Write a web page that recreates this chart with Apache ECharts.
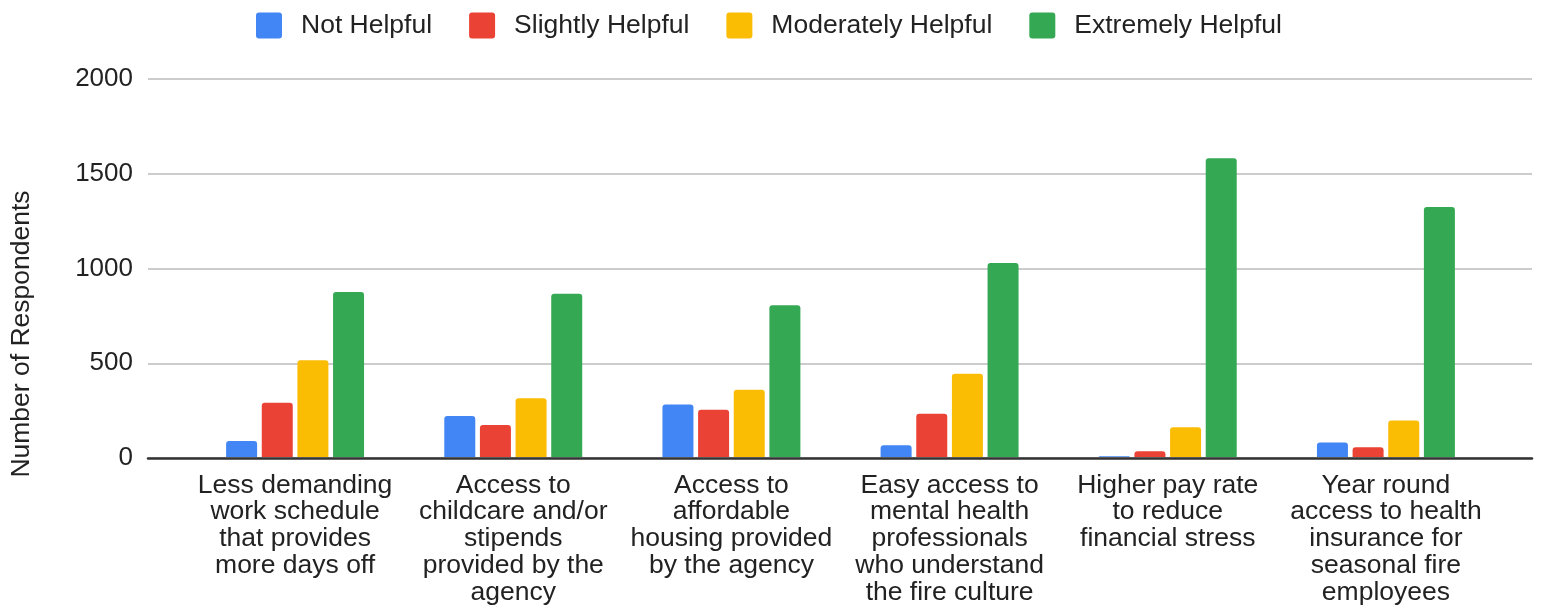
<!DOCTYPE html>
<html>
<head>
<meta charset="utf-8">
<script src="https://cdn.jsdelivr.net/npm/echarts@6/dist/echarts.min.js"></script>
<style>
    html, body { margin: 0; padding: 0; background: #fff; }
    #chart { width: 1544px; height: 606px; }
</style>
</head>
<body>
<div id="chart"></div>
<script>
    var categories = [
        'Less demanding\nwork schedule\nthat provides\nmore days off',
        'Access to\nchildcare and/or\nstipends\nprovided by the\nagency',
        'Access to\naffordable\nhousing provided\nby the agency',
        'Easy access to\nmental health\nprofessionals\nwho understand\nthe fire culture',
        'Higher pay rate\nto reduce\nfinancial stress',
        'Year round\naccess to health\ninsurance for\nseasonal fire\nemployees'
    ];
    var seriesNames = ['Not Helpful', 'Slightly Helpful', 'Moderately Helpful', 'Extremely Helpful'];
    var notHelpful = [84, 216, 277, 62, 4, 76];
    var slightlyHelpful = [287, 169, 250, 229, 30, 51];
    var moderatelyHelpful = [511, 310, 356, 440, 157, 192];
    var extremelyHelpful = [873, 863, 803, 1026, 1581, 1322];
    var colors = ['#4285f4', '#ea4335', '#fbbc04', '#34a853'];

    var font = "'Liberation Sans', Arial, sans-serif";
    var values = [notHelpful, slightlyHelpful, moderatelyHelpful, extremelyHelpful];
    // small-radius square for legend markers
    var keyIcon = 'path://M3,0 H23 Q26,0 26,3 V23 Q26,26 23,26 H3 Q0,26 0,23 V3 Q0,0 3,0 Z';

    var chart = echarts.init(document.getElementById('chart'));

    var series = seriesNames.map(function (name, i) {
        return {
            name: name,
            type: 'bar',
            xAxisIndex: 1,
            yAxisIndex: 1,
            barWidth: 31,
            barGap: '15%',
            itemStyle: { color: colors[i], borderRadius: [3, 3, 0, 0] },
            data: values[i]
        };
    });

    var option = {
        animation: false,
        color: colors,
        textStyle: { fontFamily: font },
        legend: {
            left: 256,
            top: 12,
            padding: 0,
            itemWidth: 26,
            itemHeight: 26,
            itemGap: 37,
            icon: keyIcon,
            textStyle: { fontSize: 26.5, color: '#222', fontFamily: font, padding: [0, 0, 0, 14] },
            data: seriesNames
        },
        grid: [
            { left: 148, right: 12, top: 79, bottom: 148 },
            { left: 186, right: 49, top: 79, bottom: 148 }
        ],
        xAxis: [
            {
                gridIndex: 0, type: 'value', min: 0, max: 1,
                axisLabel: { show: false }, axisTick: { show: false },
                splitLine: { show: false },
                axisLine: { show: true, lineStyle: { color: '#333', width: 2.5 } }
            },
            {
                gridIndex: 1, type: 'category', data: categories,
                axisLine: { show: false }, axisTick: { show: false },
                axisLabel: {
                    interval: 0, margin: 15, fontSize: 26.5, lineHeight: 26.8,
                    color: '#222', fontFamily: font
                }
            }
        ],
        yAxis: [
            {
                gridIndex: 0, type: 'value', min: 0, max: 2000, interval: 500,
                axisLine: { show: false }, axisTick: { show: false },
                axisLabel: {
                    fontSize: 26, color: '#222', margin: 15, fontFamily: font,
                    formatter: function (v) { return String(v); }
                },
                splitLine: { lineStyle: { color: '#cccccc', width: 2 } }
            },
            {
                gridIndex: 1, type: 'value', min: 0, max: 2000, interval: 500,
                show: false, splitLine: { show: false }
            }
        ],
        graphic: [{
            type: 'text',
            x: 22, y: 334,
            rotation: Math.PI / 2,
            style: {
                text: 'Number of Respondents',
                font: '26.5px ' + font,
                fill: '#222',
                align: 'center',
                verticalAlign: 'middle'
            }
        }],
        series: series
    };
    chart.setOption(option);
</script>
</body>
</html>
